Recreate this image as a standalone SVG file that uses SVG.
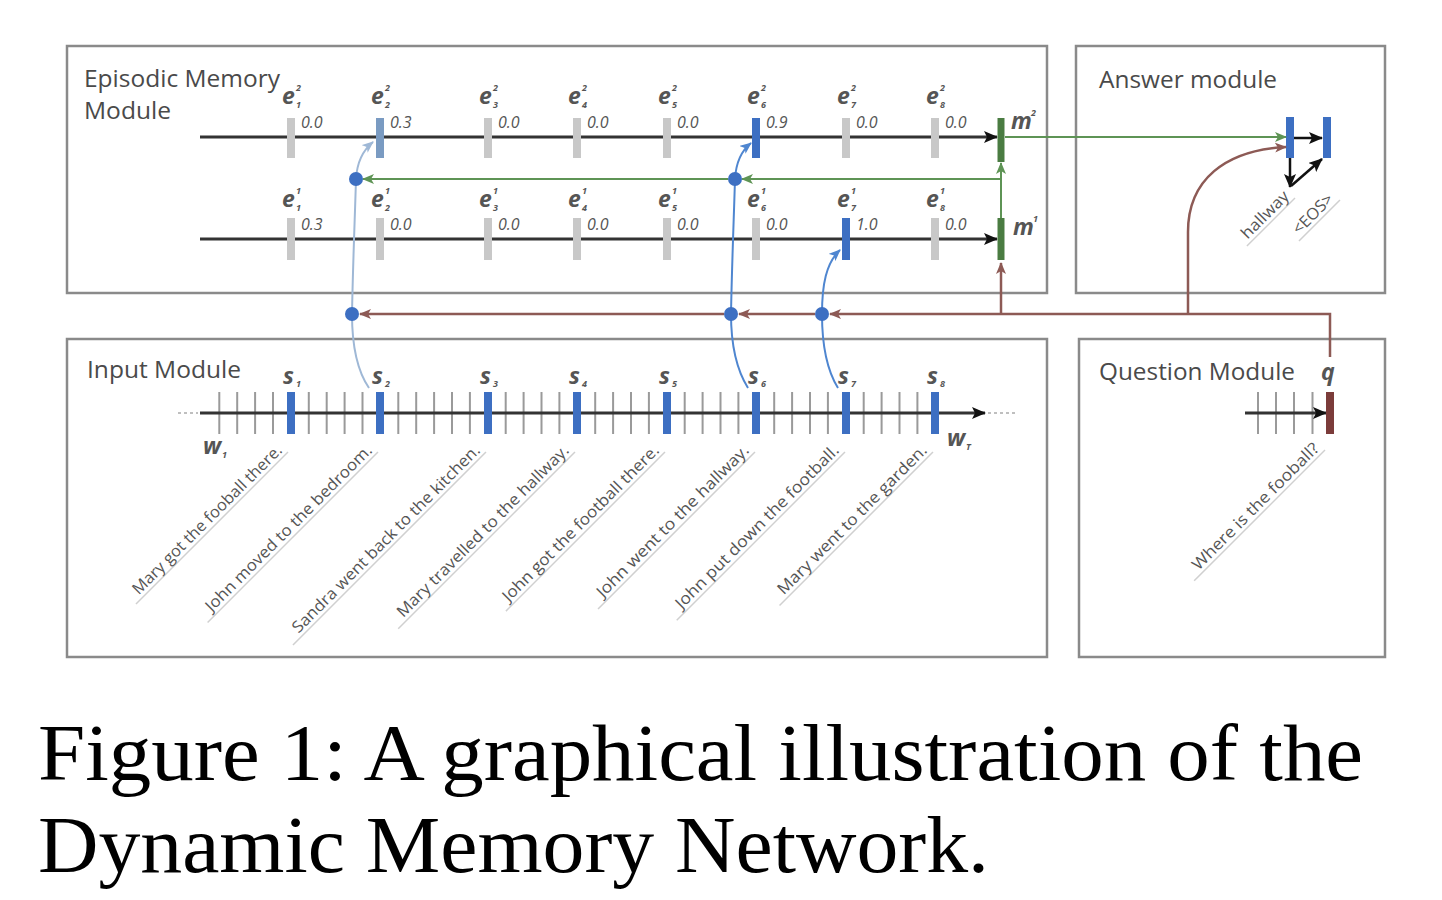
<svg xmlns="http://www.w3.org/2000/svg" width="1442" height="900" viewBox="0 0 1442 900">
<style>
.box{fill:none;stroke:#8a8a8a;stroke-width:2.5}
.title{font-family:"Open Sans","Liberation Sans",sans-serif;font-size:24px;fill:#4a4a4a}
.el{font-family:"Open Sans","Liberation Sans",sans-serif;font-style:italic;font-weight:700;font-size:23px;fill:#555}
.sm{font-family:"Open Sans","Liberation Sans",sans-serif;font-style:italic;font-weight:700;font-size:9px;fill:#555}
.val{font-family:"Open Sans","Liberation Sans",sans-serif;font-style:italic;font-size:16px;fill:#555}
.sent{font-family:"Open Sans","Liberation Sans",sans-serif;font-size:16px;fill:#555}
.ul{stroke:#d0d0d0;stroke-width:1.5}
.tick{stroke:#c8c8c8;stroke-width:8}
.seq{stroke:#333;stroke-width:3;fill:none}
.wt{stroke:#9a9a9a;stroke-width:2;fill:none}
.bb{stroke:#3d6fc2;stroke-width:8}
.gb{stroke:#4a7c42;stroke-width:7}
.green{stroke:#5e9455;stroke-width:2;fill:none}
.brown{stroke:#8d5a55;stroke-width:2.5;fill:none}
.blue{stroke:#4f86d0;stroke-width:2;fill:none}
.lblue{stroke:#9fb8d6;stroke-width:2;fill:none}
.dot{fill:#3d6fc2}
.cap{font-family:"Liberation Serif","DejaVu Serif",serif;font-size:80px;fill:#000}
</style>
<defs>
<marker id="ak" viewBox="0 0 14 12" refX="13" refY="6" markerWidth="14" markerHeight="12" markerUnits="userSpaceOnUse" orient="auto"><path d="M0,0 L14,6 L0,12 L3,6 z" fill="#111"/></marker>
<marker id="ag" viewBox="0 0 12 10" refX="11" refY="5" markerWidth="12" markerHeight="10" markerUnits="userSpaceOnUse" orient="auto"><path d="M0,0 L12,5 L0,10 L3,5 z" fill="#5e9455"/></marker>
<marker id="ar" viewBox="0 0 12 10" refX="11" refY="5" markerWidth="12" markerHeight="10" markerUnits="userSpaceOnUse" orient="auto"><path d="M0,0 L12,5 L0,10 L3,5 z" fill="#8d5a55"/></marker>
<marker id="abl" viewBox="0 0 12 10" refX="11" refY="5" markerWidth="12" markerHeight="10" markerUnits="userSpaceOnUse" orient="auto"><path d="M0,0 L12,5 L0,10 L3,5 z" fill="#4f86d0"/></marker>
<marker id="alb" viewBox="0 0 12 10" refX="11" refY="5" markerWidth="12" markerHeight="10" markerUnits="userSpaceOnUse" orient="auto"><path d="M0,0 L12,5 L0,10 L3,5 z" fill="#9fb8d6"/></marker>
</defs>
<rect width="1442" height="900" fill="#fff"/>

<g id="episodic-module">
<rect class="box" x="67" y="46" width="980" height="247"/>
<text class="title" x="84" y="87" textLength="196" lengthAdjust="spacingAndGlyphs">Episodic Memory</text>
<text class="title" x="84" y="119" textLength="87" lengthAdjust="spacingAndGlyphs">Module</text>
<line class="seq" x1="200" y1="137" x2="997" y2="137" marker-end="url(#ak)"/>
<line class="seq" x1="200" y1="239" x2="997" y2="239" marker-end="url(#ak)"/>
<g id="episode-ticks">
<path class="tick" d="M291,118V158M488,118V158M577,118V158M667,118V158M846,118V158M935,118V158"/>
<line x1="380" y1="118" x2="380" y2="158" stroke="#7a9bc2" stroke-width="8"/>
<line class="bb" x1="756" y1="118" x2="756" y2="158"/>
<path class="tick" d="M291,218V260M380,218V260M488,218V260M577,218V260M667,218V260M756,218V260M935,218V260"/>
<line class="bb" x1="846" y1="218" x2="846" y2="260"/>
</g>
<g id="episode-labels-2">
<text class="el" x="282" y="104">e</text><text class="sm" x="296" y="91">2</text><text class="sm" x="296" y="108">1</text>
<text class="el" x="371" y="104">e</text><text class="sm" x="385" y="91">2</text><text class="sm" x="385" y="108">2</text>
<text class="el" x="479" y="104">e</text><text class="sm" x="493" y="91">2</text><text class="sm" x="493" y="108">3</text>
<text class="el" x="568" y="104">e</text><text class="sm" x="582" y="91">2</text><text class="sm" x="582" y="108">4</text>
<text class="el" x="658" y="104">e</text><text class="sm" x="672" y="91">2</text><text class="sm" x="672" y="108">5</text>
<text class="el" x="747" y="104">e</text><text class="sm" x="761" y="91">2</text><text class="sm" x="761" y="108">6</text>
<text class="el" x="837" y="104">e</text><text class="sm" x="851" y="91">2</text><text class="sm" x="851" y="108">7</text>
<text class="el" x="926" y="104">e</text><text class="sm" x="940" y="91">2</text><text class="sm" x="940" y="108">8</text>
<text class="val" x="301" y="128">0.0</text>
<text class="val" x="390" y="128">0.3</text>
<text class="val" x="498" y="128">0.0</text>
<text class="val" x="587" y="128">0.0</text>
<text class="val" x="677" y="128">0.0</text>
<text class="val" x="766" y="128">0.9</text>
<text class="val" x="856" y="128">0.0</text>
<text class="val" x="945" y="128">0.0</text>
</g>
<g id="episode-labels-1">
<text class="el" x="282" y="207">e</text><text class="sm" x="296" y="194">1</text><text class="sm" x="296" y="211">1</text>
<text class="el" x="371" y="207">e</text><text class="sm" x="385" y="194">1</text><text class="sm" x="385" y="211">2</text>
<text class="el" x="479" y="207">e</text><text class="sm" x="493" y="194">1</text><text class="sm" x="493" y="211">3</text>
<text class="el" x="568" y="207">e</text><text class="sm" x="582" y="194">1</text><text class="sm" x="582" y="211">4</text>
<text class="el" x="658" y="207">e</text><text class="sm" x="672" y="194">1</text><text class="sm" x="672" y="211">5</text>
<text class="el" x="747" y="207">e</text><text class="sm" x="761" y="194">1</text><text class="sm" x="761" y="211">6</text>
<text class="el" x="837" y="207">e</text><text class="sm" x="851" y="194">1</text><text class="sm" x="851" y="211">7</text>
<text class="el" x="926" y="207">e</text><text class="sm" x="940" y="194">1</text><text class="sm" x="940" y="211">8</text>
<text class="val" x="301" y="230">0.3</text>
<text class="val" x="390" y="230">0.0</text>
<text class="val" x="498" y="230">0.0</text>
<text class="val" x="587" y="230">0.0</text>
<text class="val" x="677" y="230">0.0</text>
<text class="val" x="766" y="230">0.0</text>
<text class="val" x="856" y="230">1.0</text>
<text class="val" x="945" y="230">0.0</text>
</g>
<g id="memory-m2">
<line class="gb" x1="1001" y1="118" x2="1001" y2="162"/>
<text class="el" x="1011" y="129" font-weight="400">m</text><text class="sm" x="1031" y="116">2</text>
</g>
<g id="memory-m1">
<line class="gb" x1="1001" y1="218" x2="1001" y2="260"/>
<text class="el" x="1013" y="235" font-weight="400">m</text><text class="sm" x="1033" y="222">1</text>
</g>
</g>

<g id="answer-module">
<rect class="box" x="1076" y="46" width="309" height="247"/>
<text class="title" x="1099" y="88" textLength="178" lengthAdjust="spacingAndGlyphs">Answer module</text>
<line class="bb" x1="1290" y1="117" x2="1290" y2="158"/>
<line class="bb" x1="1327" y1="117" x2="1327" y2="158"/>
<line stroke="#111" stroke-width="2.5" x1="1294" y1="138" x2="1322" y2="138" marker-end="url(#ak)"/>
<line stroke="#111" stroke-width="2.5" x1="1290" y1="158" x2="1290" y2="187" marker-end="url(#ak)"/>
<line stroke="#111" stroke-width="2.5" x1="1291" y1="186" x2="1322" y2="159" marker-end="url(#ak)"/>
<g transform="translate(1295,198) rotate(-45)"><line class="ul" x1="-68" y1="0" x2="0" y2="0"/><text class="sent" x="-3" y="-4" text-anchor="end" font-size="15" textLength="60" lengthAdjust="spacingAndGlyphs">hallway</text></g>
<g transform="translate(1340,200) rotate(-45)"><line class="ul" x1="-58" y1="0" x2="0" y2="0"/><text class="sent" x="-4" y="-4" text-anchor="end" font-size="15" textLength="50" lengthAdjust="spacingAndGlyphs">&lt;EOS&gt;</text></g>
</g>

<g id="input-module">
<rect class="box" x="67" y="339" width="980" height="318"/>
<text class="title" x="87" y="378" textLength="154" lengthAdjust="spacingAndGlyphs">Input Module</text>
<line x1="178" y1="413" x2="198" y2="413" stroke="#aaa" stroke-width="1.5" stroke-dasharray="3,3"/>
<line x1="988" y1="413" x2="1018" y2="413" stroke="#aaa" stroke-width="1.5" stroke-dasharray="3,3"/>
<path class="wt" d="M219.3,392V434M237.2,392V434M255.1,392V434M273,392V434M308.8,392V434M326.7,392V434M344.6,392V434M362.5,392V434M398.3,392V434M416.2,392V434M434.1,392V434M452,392V434M469.9,392V434M505.7,392V434M523.6,392V434M541.5,392V434M559.4,392V434M595.2,392V434M613.1,392V434M631,392V434M648.9,392V434M684.7,392V434M702.6,392V434M720.5,392V434M738.4,392V434M774.2,392V434M792.1,392V434M810,392V434M827.9,392V434M863.7,392V434M881.6,392V434M899.5,392V434M917.4,392V434"/>
<line class="seq" x1="200" y1="413" x2="985" y2="413" marker-end="url(#ak)"/>
<path class="bb" d="M291,392V434M380,392V434M488,392V434M577,392V434M667,392V434M756,392V434M846,392V434M935,392V434"/>
<g id="sentence-labels">
<text class="el" x="283" y="384">s</text><text class="sm" x="296" y="387">1</text>
<text class="el" x="372" y="384">s</text><text class="sm" x="385" y="387">2</text>
<text class="el" x="480" y="384">s</text><text class="sm" x="493" y="387">3</text>
<text class="el" x="569" y="384">s</text><text class="sm" x="582" y="387">4</text>
<text class="el" x="659" y="384">s</text><text class="sm" x="672" y="387">5</text>
<text class="el" x="748" y="384">s</text><text class="sm" x="761" y="387">6</text>
<text class="el" x="838" y="384">s</text><text class="sm" x="851" y="387">7</text>
<text class="el" x="927" y="384">s</text><text class="sm" x="940" y="387">8</text>
<text class="el" x="203" y="454">w</text><text class="sm" x="222" y="458">1</text>
<text class="el" x="947" y="446">w</text><text class="sm" x="966" y="450">T</text>
</g>
<g id="sentences">
<g transform="translate(288,452) rotate(-45)"><line class="ul" x1="-215" y1="0" x2="0" y2="0"/><text class="sent" x="-3" y="-4" text-anchor="end" textLength="204" lengthAdjust="spacingAndGlyphs">Mary got the fooball there.</text></g>
<g transform="translate(378,452) rotate(-45)"><line class="ul" x1="-241" y1="0" x2="0" y2="0"/><text class="sent" x="-3" y="-4" text-anchor="end" textLength="228" lengthAdjust="spacingAndGlyphs">John moved to the bedroom.</text></g>
<g transform="translate(486,452) rotate(-45)"><line class="ul" x1="-273" y1="0" x2="0" y2="0"/><text class="sent" x="-3" y="-4" text-anchor="end" textLength="258" lengthAdjust="spacingAndGlyphs">Sandra went back to the kitchen.</text></g>
<g transform="translate(575,452) rotate(-45)"><line class="ul" x1="-250" y1="0" x2="0" y2="0"/><text class="sent" x="-3" y="-4" text-anchor="end" textLength="236" lengthAdjust="spacingAndGlyphs">Mary travelled to the hallway.</text></g>
<g transform="translate(665,452) rotate(-45)"><line class="ul" x1="-225" y1="0" x2="0" y2="0"/><text class="sent" x="-3" y="-4" text-anchor="end" textLength="214" lengthAdjust="spacingAndGlyphs">John got the football there.</text></g>
<g transform="translate(755,452) rotate(-45)"><line class="ul" x1="-222" y1="0" x2="0" y2="0"/><text class="sent" x="-3" y="-4" text-anchor="end" textLength="208" lengthAdjust="spacingAndGlyphs">John went to the hallway.</text></g>
<g transform="translate(845,452) rotate(-45)"><line class="ul" x1="-238" y1="0" x2="0" y2="0"/><text class="sent" x="-3" y="-4" text-anchor="end" textLength="224" lengthAdjust="spacingAndGlyphs">John put down the football.</text></g>
<g transform="translate(933,452) rotate(-45)"><line class="ul" x1="-217" y1="0" x2="0" y2="0"/><text class="sent" x="-3" y="-4" text-anchor="end" textLength="204" lengthAdjust="spacingAndGlyphs">Mary went to the garden.</text></g>
</g>
</g>

<g id="question-module">
<rect class="box" x="1079" y="339" width="306" height="318"/>
<text class="title" x="1099" y="380" textLength="196" lengthAdjust="spacingAndGlyphs">Question Module</text>
<text class="el" x="1321" y="380">q</text>
<path class="wt" d="M1258,392V434M1276,392V434M1294,392V434M1312.5,392V434"/>
<line class="seq" x1="1245" y1="413" x2="1326" y2="413" stroke-width="2.5" marker-end="url(#ak)"/>
<line x1="1330" y1="392" x2="1330" y2="434" stroke="#7b3c3a" stroke-width="8"/>
<g transform="translate(1325,450) rotate(-45)"><line class="ul" x1="-185" y1="0" x2="0" y2="0"/><text class="sent" x="-3" y="-4" text-anchor="end" textLength="172" lengthAdjust="spacingAndGlyphs">Where is the fooball?</text></g>
</g>

<g id="connectors">
<path class="green" d="M1005,137H1286" marker-end="url(#ag)"/>
<path class="green" d="M1001,218V163" marker-end="url(#ag)"/>
<path class="green" d="M1001,179H742" marker-end="url(#ag)"/>
<path class="green" d="M728,179H363" marker-end="url(#ag)"/>
<path class="brown" d="M1330,357V314H830" marker-end="url(#ar)"/>
<path class="brown" d="M815,314H739" marker-end="url(#ar)"/>
<path class="brown" d="M724,314H360" marker-end="url(#ar)"/>
<path class="brown" d="M1001,314V263" marker-end="url(#ar)"/>
<path class="brown" d="M1188,314V232C1188,180 1225,150 1286,147" marker-end="url(#ar)"/>
<path class="lblue" d="M369,388C358,372 352,348 352,314C353,260 355,215 356,179C357,162 362,151 373,142" marker-end="url(#alb)"/>
<path class="blue" d="M748,388C738,372 731,348 731,314C732,260 734,215 735,179C736,162 741,151 751,143" marker-end="url(#abl)"/>
<path class="blue" d="M838,388C828,372 822,348 822,314C822,285 826,263 840,250" marker-end="url(#abl)"/>
<circle class="dot" cx="356" cy="179" r="7"/>
<circle class="dot" cx="735" cy="179" r="7"/>
<circle class="dot" cx="352" cy="314" r="7"/>
<circle class="dot" cx="731" cy="314" r="7"/>
<circle class="dot" cx="822" cy="314" r="7"/>
</g>

<g id="caption">
<text class="cap" x="38" y="780" textLength="1325" lengthAdjust="spacingAndGlyphs">Figure 1: A graphical illustration of the</text>
<text class="cap" x="38" y="872" textLength="951" lengthAdjust="spacingAndGlyphs">Dynamic Memory Network.</text>
</g>
</svg>
